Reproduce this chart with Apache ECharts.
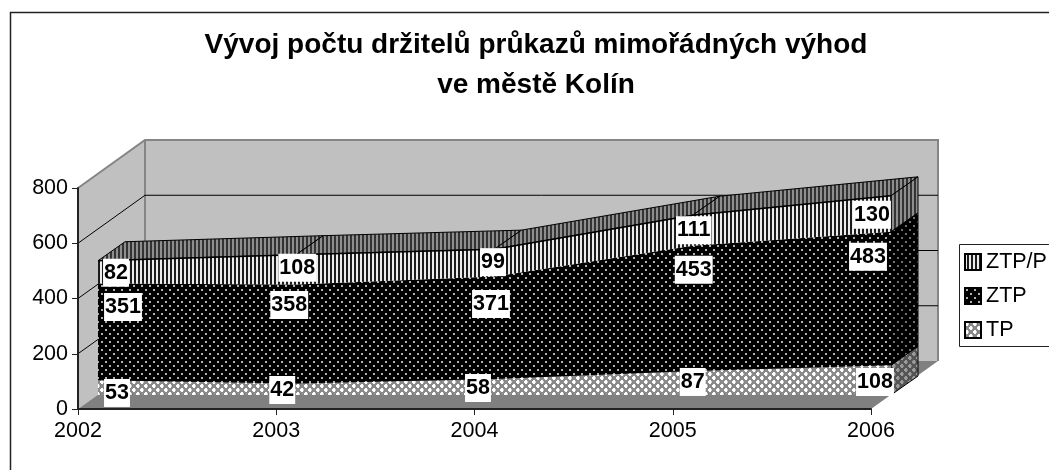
<!DOCTYPE html>
<html><head><meta charset="utf-8">
<style>html,body{margin:0;padding:0;background:#fff}#c{width:1049px;height:470px}</style>
<script src="https://cdn.jsdelivr.net/npm/echarts@6/dist/echarts.min.js"></script>
</head><body><div id="c"></div>
<script>
const categories = ['2002','2003','2004','2005','2006'];
const tpValues = [53,42,58,87,108];
const ztpValues = [351,358,371,453,483];
const ztppValues = [82,108,99,111,130];
const yTicks = [0,200,400,600,800];
const titleText = 'Vývoj počtu držitelů průkazů mimořádných výhod\nve městě Kolín';

const FONT = '"Liberation Sans", Arial, sans-serif';
const WALL = [67,-48], FACE = [20,-14], DEPTH = [27,-19];
// label nudges away from each stacked point, in pixels
const nudgeTP = [[19,12.6],[-14,6.6],[-16.5,9],[0,11],[-16,16.8]];
const nudgeZTP = [[25,23.6],[-7,20.5],[-3.5,27.5],[1,24],[-23,25]];
const nudgeZTPP = [[18,12],[1,13],[-1.5,13],[1,15],[-19,19]];

function tile(w,h,draw){const c=document.createElement('canvas');c.width=w;c.height=h;const g=c.getContext('2d');draw(g);return {image:c,repeat:'repeat'};}
function stripes(a,b){return tile(4,4,g=>{g.fillStyle=a;g.fillRect(0,0,4,4);g.fillStyle=b;g.fillRect(2,0,2,4);});}
function dots(bg,fg){return tile(8,8,g=>{g.fillStyle=bg;g.fillRect(0,0,8,8);g.fillStyle=fg;g.fillRect(1,1,2,2);g.fillRect(5,5,2,2);});}
function cross(bg,fg,mid){return tile(8,8,g=>{g.fillStyle=bg;g.fillRect(0,0,8,8);g.fillStyle=fg;
  [[1,1],[5,5]].forEach(p=>{g.fillRect(p[0],p[1]-1,2,4);g.fillRect(p[0]-1,p[1],4,2);});
  g.fillStyle=mid;g.fillRect(3.5,1.5,1,1);g.fillRect(7.5,5.5,0.5,1);});}
const patZTPP=stripes('#ececec','#1c1c1c'), patZTP=dots('#000','#b0b0b0'), patTP=cross('#8a8a8a','#ffffff','#444');
const darkZTPP=stripes('#8e8e8e','#333'), darkZTP=dots('#000','#707070'), darkTP=cross('#555','#9a9a9a','#333');

const cum1=tpValues, cum2=tpValues.map((v,i)=>v+ztpValues[i]), cum3=cum2.map((v,i)=>v+ztppValues[i]);
const add=(p,o,k=1)=>[p[0]+o[0]*k,p[1]+o[1]*k];

function areaSeries(name,vals,pat,nudge,lw){
  return {name,type:'line',stack:'s',xAxisIndex:1,yAxisIndex:1,z:6,smooth:false,symbol:'circle',symbolSize:0,showSymbol:true,
    lineStyle:{color:'#000',width:lw},itemStyle:{color:pat,borderColor:'#000',borderWidth:1},
    areaStyle:{color:pat,opacity:1},animation:false,
    data:vals.map((v,i)=>({value:v,label:{offset:nudge[i]}})),
    label:{show:true,position:'inside',color:'#000',fontFamily:FONT,fontWeight:'bold',fontSize:21.5,backgroundColor:'#fff',
      padding:[3,1,3,1],lineHeight:22,borderWidth:0,textBorderWidth:0,shadowBlur:0,textShadowBlur:0}};
}

const option={
  animation:false,backgroundColor:'#fff',
  title:{text:titleText,left:531,top:20,textAlign:'center',textStyle:{fontFamily:FONT,fontWeight:'bold',fontSize:28,lineHeight:40,color:'#000'}},
  legend:{data:['ZTP/P','ZTP','TP'],orient:'vertical',left:964,top:250,padding:0,itemGap:10,itemWidth:16,itemHeight:16,icon:'rect',
    textStyle:{fontFamily:FONT,fontSize:21.5,color:'#000',lineHeight:24},selectedMode:false},
  graphic:[
    {type:'rect',shape:{x:10.5,y:12.5,width:1200,height:700},style:{fill:'none',stroke:'#222',lineWidth:1.5},silent:true},
    {type:'rect',shape:{x:959.5,y:244.5,width:200,height:102},style:{fill:'#fff',stroke:'#222',lineWidth:1},silent:true}
  ],
  grid:[{left:78,top:188,width:793,height:221},{left:98,top:174,width:793,height:221}],
  xAxis:[
    {type:'category',gridIndex:0,data:categories,boundaryGap:false,z:3,
     axisLine:{lineStyle:{color:'#222',width:2}},axisTick:{show:true,length:6,alignWithLabel:true,lineStyle:{color:'#222',width:1}},
     axisLabel:{color:'#000',fontFamily:FONT,fontSize:21.5,margin:11,hideOverlap:false,showMinLabel:true,showMaxLabel:true},splitLine:{show:false}},
    {type:'category',gridIndex:1,data:categories,boundaryGap:false,show:false}
  ],
  yAxis:[
    {type:'value',gridIndex:0,min:0,max:800,interval:200,z:3,
     axisLine:{show:true,lineStyle:{color:'#222',width:2}},axisTick:{show:true,length:6,lineStyle:{color:'#222',width:1}},
     axisLabel:{color:'#000',fontFamily:FONT,fontSize:21.5,margin:10},splitLine:{show:false}},
    {type:'value',gridIndex:1,min:0,max:800,interval:200,show:false}
  ],
  series:[
    {type:'custom',name:'walls',xAxisIndex:0,yAxisIndex:0,z:1,silent:true,data:[[0,0]],
     renderItem(p,api){
       const a=api.coord([0,0]),b=api.coord([categories.length-1,0]),c=api.coord([0,800]);
       const a2=add(a,WALL),b2=add(b,WALL),c2=add(c,WALL),d2=[b2[0],c2[1]];
       const edge={stroke:'#858585',lineWidth:2};
       return {type:'group',children:[
         {type:'polygon',z2:0,shape:{points:[a,c,c2,a2]},style:{fill:'#c0c0c0'}},
         {type:'polygon',z2:0,shape:{points:[a2,c2,d2,b2]},style:{fill:'#c0c0c0'}},
         {type:'polygon',z2:1,shape:{points:[a,b,b2,a2]},style:{fill:'#808080'}},
         {type:'polyline',z2:2,shape:{points:[c,c2,d2,b2]},style:{fill:'none',...edge}},
         {type:'line',z2:2,shape:{x1:c2[0],y1:c2[1],x2:a2[0],y2:a2[1]},style:edge}
       ]};
     }},
    {type:'custom',name:'wallLines',xAxisIndex:0,yAxisIndex:0,z:1,silent:true,data:yTicks.slice(1,-1).map(v=>[0,v]),
     renderItem(p,api){
       const a=api.coord([0,api.value(1)]),b=api.coord([categories.length-1,api.value(1)]);
       const a2=add(a,WALL),b2=add(b,WALL);
       return {type:'polyline',z2:3,shape:{points:[a,a2,b2]},style:{fill:'none',stroke:'#000',lineWidth:1}};
     }},
    {type:'custom',name:'topFaces',xAxisIndex:1,yAxisIndex:1,z:5,silent:true,data:cum3.slice(0,-1).map((v,i)=>[i,v,i+1,cum3[i+1]]),
     renderItem(p,api){
       const a=api.coord([api.value(0),api.value(1)]),b=api.coord([api.value(2),api.value(3)]);
       return {type:'polygon',shape:{points:[a,b,add(b,DEPTH),add(a,DEPTH)]},style:{fill:darkZTPP,stroke:'#000',lineWidth:1}};
     }},
    {type:'custom',name:'sideFaces',xAxisIndex:1,yAxisIndex:1,z:5,silent:true,
     data:[[0,cum1[4]],[cum1[4],cum2[4]],[cum2[4],cum3[4]]],
     renderItem(p,api){
       const e=categories.length-1,a=api.coord([e,api.value(0)]),b=api.coord([e,api.value(1)]);
       const fills=[darkTP,darkZTP,darkZTPP];
       return {type:'polygon',shape:{points:[a,b,add(b,DEPTH),add(a,DEPTH)]},style:{fill:fills[p.dataIndex],stroke:'#000',lineWidth:1}};
     }},
    areaSeries('TP',tpValues,patTP,nudgeTP,0),
    areaSeries('ZTP',ztpValues,patZTP,nudgeZTP,0),
    areaSeries('ZTP/P',ztppValues,patZTPP,nudgeZTPP,1.5)
  ]
};
const chart=echarts.init(document.getElementById('c'),null,{renderer:'canvas'});
chart.setOption(option);
</script></body></html>
